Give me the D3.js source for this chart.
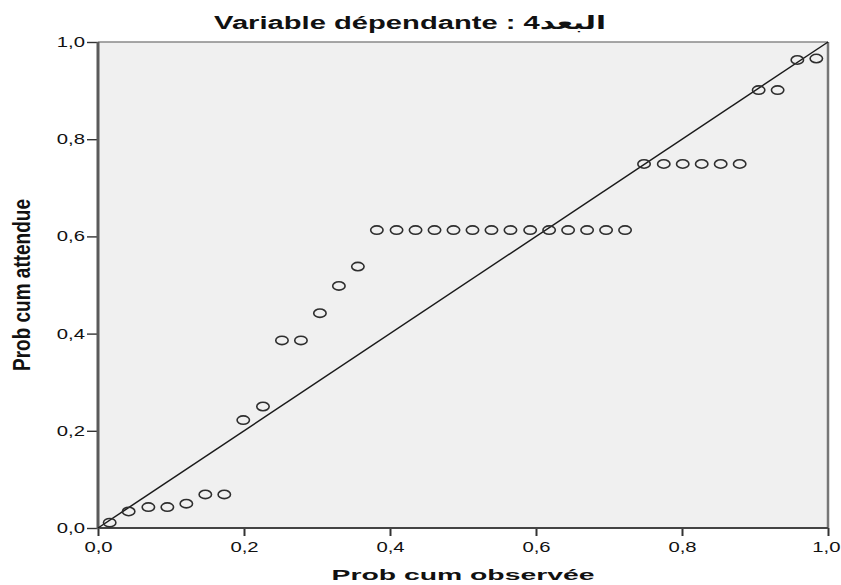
<!DOCTYPE html>
<html>
<head>
<meta charset="utf-8">
<script src="https://cdn.jsdelivr.net/npm/d3@7"></script>
<style>
  html, body { margin: 0; padding: 0; background: #fff; }
  svg { display: block; }
  text { font-family: "Liberation Sans", Arial, "DejaVu Sans", sans-serif; fill: #111; }
</style>
</head>
<body>
<svg id="chart" width="841" height="585"></svg>
<script>
// Normal P-P plot of the regression's standardized residuals
const chartTitle = "Variable dépendante : البعد4";
const xLabel = "Prob cum observée";
const yLabel = "Prob cum attendue";

// Observed cumulative probability for each case
const observed = [
  0.016, 0.042, 0.069, 0.095, 0.121, 0.147, 0.173, 0.199, 0.226, 0.252,
  0.278, 0.304, 0.330, 0.356, 0.382, 0.409, 0.435, 0.461, 0.487, 0.513,
  0.539, 0.565, 0.592, 0.618, 0.644, 0.670, 0.696, 0.722, 0.748, 0.775,
  0.801, 0.827, 0.853, 0.879, 0.905, 0.931, 0.958, 0.984
];
// Expected cumulative probability for each case
const expected = [
  0.011, 0.034, 0.043, 0.043, 0.050, 0.069, 0.069, 0.222, 0.250, 0.386,
  0.386, 0.442, 0.498, 0.538, 0.613, 0.613, 0.613, 0.613, 0.613, 0.613,
  0.613, 0.613, 0.613, 0.613, 0.613, 0.613, 0.613, 0.613, 0.749, 0.749,
  0.749, 0.749, 0.749, 0.749, 0.901, 0.901, 0.963, 0.966
];
const tickValues = [0, 0.2, 0.4, 0.6, 0.8, 1.0];
const refLine = [0, 1];

const svg = d3.select("#chart");
const plot = { left: 98, right: 828, top: 42, bottom: 528 };
const stretch = 1.45;

const x = d3.scaleLinear().domain([0, 1]).range([plot.left, plot.right]);
const y = d3.scaleLinear().domain([0, 1]).range([plot.bottom, plot.top]);
const fmt = d => d.toFixed(1).replace(".", ",");

// plot background
svg.append("rect")
  .attr("x", plot.left).attr("y", plot.top)
  .attr("width", plot.right - plot.left).attr("height", plot.bottom - plot.top)
  .attr("fill", "#f0f0f0");

// axes
const yAxis = svg.append("g")
  .attr("transform", `translate(${plot.left},0)`)
  .call(d3.axisLeft(y).tickValues(tickValues).tickFormat(fmt).tickSize(11).tickPadding(2));
const xAxis = svg.append("g")
  .attr("transform", `translate(0,${plot.bottom})`)
  .call(d3.axisBottom(x).tickValues(tickValues).tickFormat(fmt).tickSize(8).tickPadding(5));

[yAxis, xAxis].forEach(g => {
  g.select(".domain").remove();
  g.selectAll("text").attr("font-size", 14).attr("font-family", null).attr("fill", "#1a1a1a");
});
yAxis.selectAll(".tick line").attr("stroke", "#333").attr("stroke-width", 1.4);
xAxis.selectAll(".tick line").attr("stroke", "#333").attr("stroke-width", 2);

// widen tick labels around their anchor point
yAxis.selectAll("text").each(function () {
  const t = d3.select(this);
  const x0 = +t.attr("x");
  t.attr("transform", `translate(${x0},0) scale(${stretch},1) translate(${-x0},0)`);
});
xAxis.selectAll("text").attr("transform", `scale(${stretch},1)`).attr("dy", "0.78em");
// keep the last x label inside the canvas
xAxis.selectAll(".tick").filter(d => d === 1).select("text")
  .attr("text-anchor", "end").attr("x", 12 / stretch);

// frame
const frame = svg.append("g").attr("fill", "none");
frame.append("line").attr("x1", plot.left).attr("x2", plot.right).attr("y1", plot.top).attr("y2", plot.top)
  .attr("stroke", "#8a8a8a").attr("stroke-width", 1.5);
frame.append("line").attr("x1", plot.right).attr("x2", plot.right).attr("y1", plot.top).attr("y2", plot.bottom)
  .attr("stroke", "#777").attr("stroke-width", 2.5);
frame.append("line").attr("x1", plot.left).attr("x2", plot.right).attr("y1", plot.bottom).attr("y2", plot.bottom)
  .attr("stroke", "#444").attr("stroke-width", 2);
frame.append("line").attr("x1", plot.left).attr("x2", plot.left).attr("y1", plot.top).attr("y2", plot.bottom + 1)
  .attr("stroke", "#5a5a5a").attr("stroke-width", 3);

// reference diagonal
svg.append("line")
  .attr("x1", x(refLine[0])).attr("y1", y(refLine[0]))
  .attr("x2", x(refLine[1])).attr("y2", y(refLine[1]))
  .attr("stroke", "#1a1a1a").attr("stroke-width", 1.5);

// points
svg.append("g").selectAll("ellipse")
  .data(observed.map((o, i) => ({ o, e: expected[i] })))
  .join("ellipse")
  .attr("cx", d => x(d.o)).attr("cy", d => y(d.e))
  .attr("rx", 6.2).attr("ry", 4.2)
  .attr("fill", "none").attr("stroke", "#2e2e2e").attr("stroke-width", 1.6);

// helper: horizontally stretched text fitted to a width
function fittedText(str, cx, baseY, size, width, rotate) {
  const g = svg.append("g");
  const t = g.append("text").text(str)
    .attr("font-size", size).attr("font-weight", "bold")
    .attr("text-anchor", "middle");
  const w = t.node().getComputedTextLength();
  const s = width / w;
  if (rotate) {
    g.attr("transform", `translate(${baseY},${cx}) rotate(-90) scale(${s},${stretch})`);
  } else {
    g.attr("transform", `translate(${cx},${baseY}) scale(${s},1)`);
  }
  return t;
}

fittedText(chartTitle, 410, 29, 19, 392, false);
fittedText(xLabel, 463, 580, 15, 263, false);
fittedText(yLabel, 285, 30, 16, 172, true);
</script>
</body>
</html>
